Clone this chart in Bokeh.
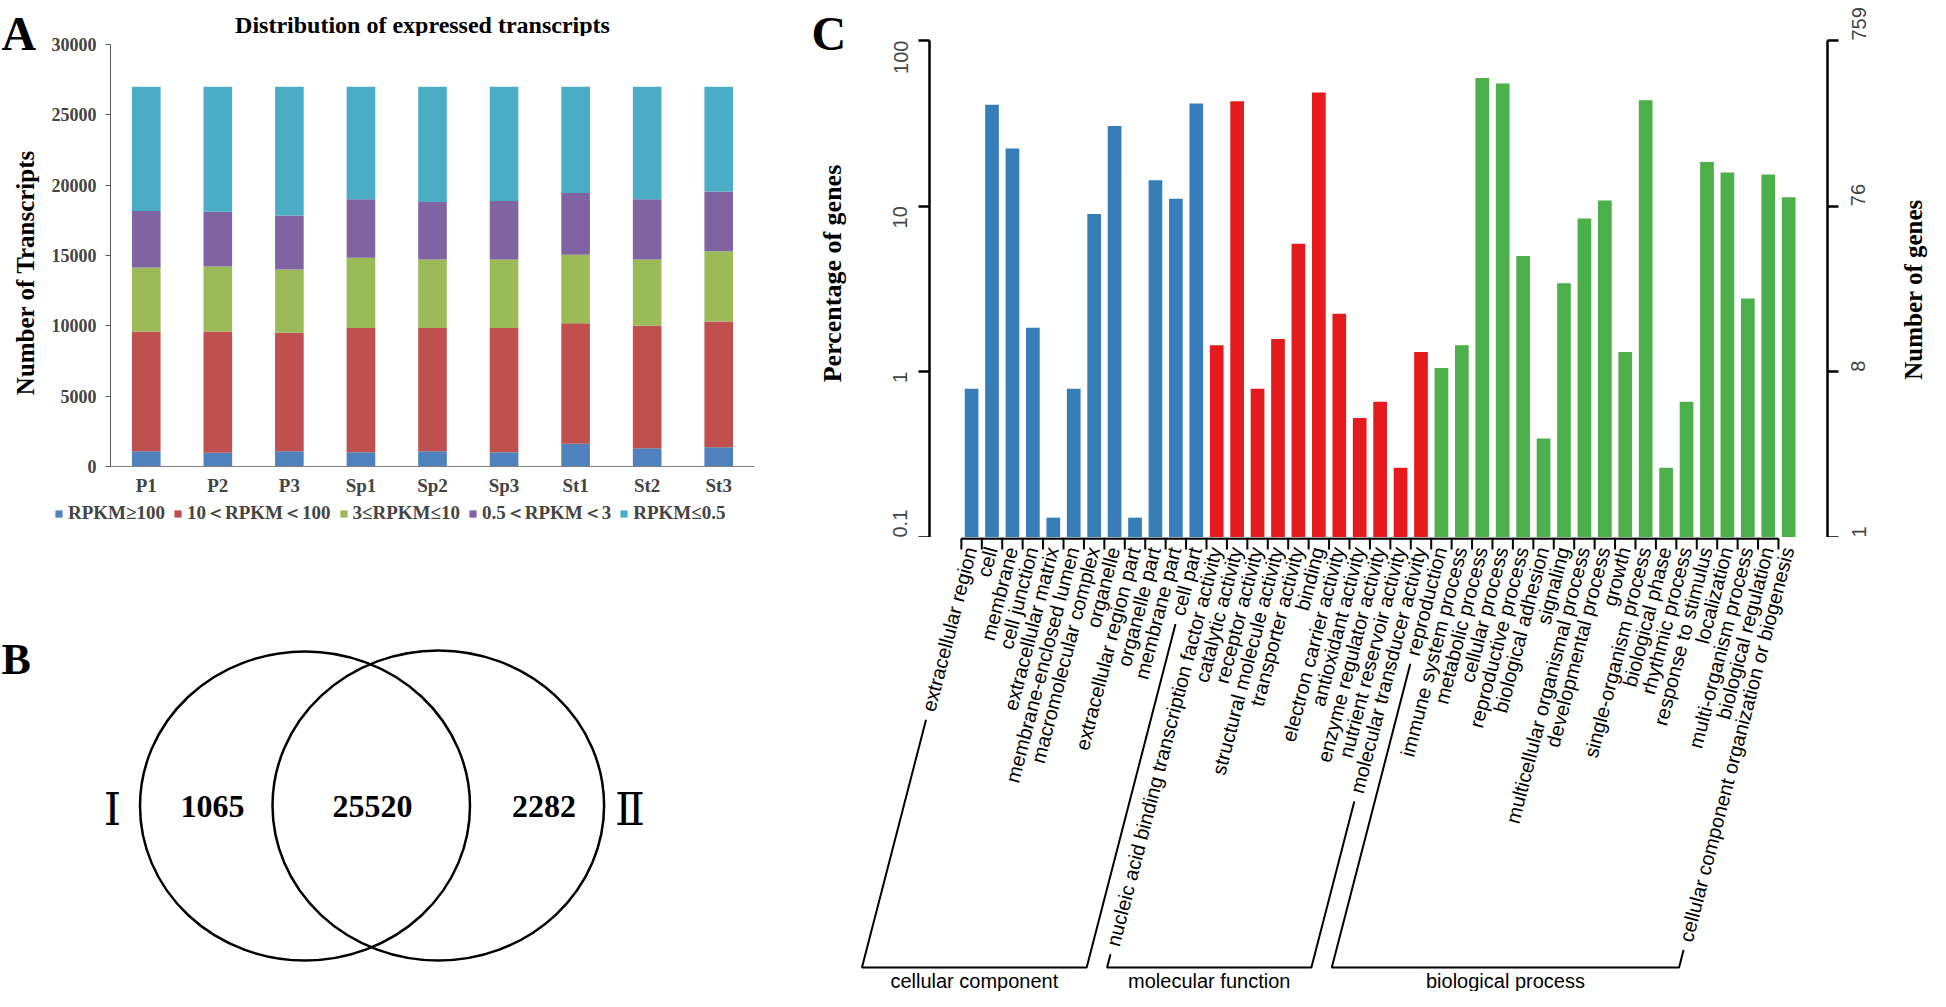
import math
from bokeh.plotting import figure
from bokeh.layouts import row, column
from bokeh.models import (Range1d, FactorRange, FixedTicker, LogAxis,
                          Legend, LegendItem, ColumnDataSource)
from bokeh.core.properties import value
from bokeh.embed import file_html
from bokeh.resources import INLINE

# ======================= DATA =======================
# Panel A: number of transcripts per RPKM class
samples = ["P1", "P2", "P3", "Sp1", "Sp2", "Sp3", "St1", "St2", "St3"]
rpkm_classes = ["RPKM≥100", "10＜RPKM＜100", "3≤RPKM≤10", "0.5＜RPKM＜3", "RPKM≤0.5"]
n_ge100 = [1090, 970, 1090, 1020, 1090, 1020, 1610, 1300, 1370]
n_10_100 = [8510, 8630, 8410, 8820, 8750, 8820, 8580, 8700, 8930]
n_3_10 = [4550, 4620, 4510, 5000, 4880, 4880, 4860, 4720, 5000]
n_05_3 = [4010, 3890, 3840, 4150, 4080, 4150, 4390, 4270, 4250]
n_le05 = [8840, 8890, 9150, 8010, 8200, 8130, 7560, 8010, 7450]
a_title = "Distribution of expressed transcripts"
a_ylabel = "Number of Transcripts"
a_yticks = [0, 5000, 10000, 15000, 20000, 25000, 30000]

# Panel B: Venn counts
venn_sets = ["Ⅰ", "Ⅱ"]
only_I = 1065
shared = 25520
only_II = 2282

# Panel C: GO classification (gene counts)
total_genes = 759
cc_terms = ["extracellular region", "cell", "membrane", "cell junction",
            "extracellular matrix", "membrane-enclosed lumen", "macromolecular complex",
            "organelle", "extracellular region part", "organelle part",
            "membrane part", "cell part"]
cc_genes = [6, 311, 169, 14, 1, 6, 68, 231, 1, 109, 84, 316]
mf_terms = ["nucleic acid binding transcription factor activity", "catalytic activity",
            "receptor activity", "structural molecule activity", "transporter activity",
            "binding", "electron carrier activity", "antioxidant activity",
            "enzyme regulator activity", "nutrient reservoir activity",
            "molecular transducer activity"]
mf_genes = [11, 326, 6, 12, 45, 369, 17, 4, 5, 2, 10]
bp_terms = ["reproduction", "immune system process", "metabolic process",
            "cellular process", "reproductive process", "biological adhesion",
            "signaling", "multicellular organismal process", "developmental process",
            "growth", "single-organism process", "biological phase", "rhythmic process",
            "response to stimulus", "localization", "multi-organism process",
            "biological regulation", "cellular component organization or biogenesis"]
bp_genes = [8, 11, 450, 417, 38, 3, 26, 64, 82, 10, 331, 2, 5, 140, 121, 21, 118, 86]
go_groups = ["cellular component", "molecular function", "biological process"]
c_ylabel_left = "Percentage of genes"
c_ylabel_right = "Number of genes"
pct_ticks = [0.1, 1, 10, 100]

# ======================= STYLE / LAYOUT =======================
colorsA = ["#4F81BD", "#C0504D", "#9BBB59", "#8064A2", "#4BACC6"]
colorsC = ["#377EB8", "#E41A1C", "#4DAF4A"]
SERIF = "Liberation Serif"
SANS = "Liberation Sans"
LEFT_W, RIGHT_W = 782, 1148
PAGE_BOTTOM = 999
# left column page rows: title strip | chart A | legend strip | Venn
Y_A0, Y_A1, Y_L1 = 44, 508, 545
X_AS = 48                    # end of the left text strip of panel A


def common(p):
    p.outline_line_color = None
    p.background_fill_color = "white"
    p.border_fill_color = "white"
    p.xgrid.visible = False
    p.ygrid.visible = False


def strip(x0, x1, ytop, ybot):
    """Axis-less figure whose data coordinates are page pixels (y measured up from ybot)."""
    f = figure(x_range=Range1d(x0, x1), y_range=Range1d(0, ybot - ytop),
               width=x1 - x0, height=ybot - ytop, min_border=0,
               x_axis_location=None, y_axis_location=None,
               toolbar_location=None, output_backend="svg")
    common(f)
    return f


# ---------------- Panel A ----------------
A_L, A_R, A_T, A_B = 118, 762, 52, 474
sAL = strip(8, X_AS, 8, Y_A1)
sAL.text(x=[9], y=[Y_A1 - 41], text=["A"], text_align="left",
         text_baseline="alphabetic", text_font=value(SERIF), text_font_style="bold",
         text_font_size="48px")
sAL.text(x=[33], y=[Y_A1 - 280], text=[a_ylabel], angle=math.pi / 2,
         text_align="center", text_baseline="middle", text_font=value(SERIF),
         text_font_style="bold", text_font_size="25px")
sAT = strip(X_AS, 8 + LEFT_W, 8, Y_A0)
sAT.text(x=[430], y=[Y_A0 - 32], text=[a_title], text_align="center",
         text_baseline="alphabetic", text_font=value(SERIF), text_font_style="bold",
         text_font_size="24px")

pA = figure(x_range=FactorRange(factors=samples), y_range=Range1d(0, 30000),
            width=8 + LEFT_W - X_AS, height=Y_A1 - Y_A0, min_border_left=A_L - X_AS,
            min_border_right=8 + LEFT_W - A_R, min_border_top=A_T - Y_A0,
            min_border_bottom=Y_A1 - A_B, toolbar_location=None,
            output_backend="svg")
common(pA)
srcA = ColumnDataSource(dict(sample=samples, c0=n_ge100, c1=n_10_100, c2=n_3_10,
                             c3=n_05_3, c4=n_le05))
rendA = pA.vbar_stack(["c0", "c1", "c2", "c3", "c4"], x="sample", width=0.4,
                      fill_color=colorsA, line_color=None, source=srcA)
ya = pA.yaxis[0]
ya.ticker = FixedTicker(ticks=a_yticks)
ya.minor_tick_line_color = None
ya.major_tick_out = 5
ya.major_tick_in = 0
ya.axis_line_color = "#595959"
ya.major_tick_line_color = "#595959"
ya.major_label_text_font = SERIF
ya.major_label_text_font_style = "bold"
ya.major_label_text_font_size = "18px"
ya.major_label_standoff = 9
xa = pA.xaxis[0]
xa.major_tick_out = 0
xa.major_tick_in = 0
xa.minor_tick_line_color = None
xa.axis_line_color = "#7f7f7f"
xa.major_label_text_font = SERIF
xa.major_label_text_font_style = "bold"
xa.major_label_text_font_size = "19px"
xa.major_label_standoff = 8

# legend strip: Bokeh Legend whose swatches come from zero-size proxies
# (placed outside the visible range) carrying each class colour
sL = strip(8, 8 + LEFT_W, Y_A1, Y_L1)
leg_r = [sL.vbar(x=[-1000], top=[0], bottom=[0], width=0, fill_color=c, line_color=None)
         for c in colorsA]
legA = Legend(items=[LegendItem(label=c, renderers=[r]) for c, r in zip(rpkm_classes, leg_r)],
              orientation="horizontal", location=(62 - 8, Y_L1 - 534), glyph_width=9,
              glyph_height=9, label_standoff=5, spacing=8, padding=0, margin=0,
              border_line_color=None, background_fill_alpha=0,
              label_text_font=SERIF, label_text_font_style="bold",
              label_text_font_size="19px", label_height=20)
sL.add_layout(legA)

# ---------------- Panel B ----------------
pB = strip(8, 8 + LEFT_W, Y_L1, PAGE_BOTTOM)


def by(py):
    return PAGE_BOTTOM - py


pB.ellipse(x=[312.5, 445.8], y=[by(813.5), by(813)], width=[330, 331.6],
           height=[309, 310], fill_color=None, line_color="black", line_width=2.5)
pB.text(x=[220, 380, 551.5], y=[by(814)] * 3,
        text=[str(only_I), str(shared), str(only_II)], text_align="center",
        text_baseline="middle", text_font=value(SERIF), text_font_style="bold",
        text_font_size="32px")
pB.text(x=[120, 637.5], y=[by(817)] * 2, text=venn_sets, text_align="center",
        text_baseline="middle", text_font=value("DejaVu Serif"), text_font_size="44px")
pB.text(x=[9], y=[by(667)], text=["B"], text_align="left", text_baseline="alphabetic",
        text_font=value(SERIF), text_font_style="bold", text_font_size="44px")

# ---------------- Panel C ----------------
terms = cc_terms + mf_terms + bp_terms
genes = cc_genes + mf_genes + bp_genes
pct = [100.0 * g / total_genes for g in genes]
grp = [0] * len(cc_terms) + [1] * len(mf_terms) + [2] * len(bp_terms)
idx = list(range(len(terms)))
RX0 = 8 + LEFT_W            # right column left edge (page)
RX1 = RX0 + RIGHT_W         # right column right edge (page)
C_L, C_R, C_T, C_B = 937, 1835, 48, 545
SL_X1 = 865                 # end of left text strip
SR_X0 = 1900                # start of right text strip
xr = Range1d(-2.06, 41.9)
ppu = (C_R - C_L) / (xr.end - xr.start)

sCL = strip(RX0, SL_X1, 8, C_B)
sCL.text(x=[819], y=[C_B - 41], text=["C"], text_align="left",
         text_baseline="alphabetic", text_font=value(SERIF), text_font_style="bold",
         text_font_size="48px")
sCL.text(x=[840], y=[C_B - 281], text=[c_ylabel_left], angle=math.pi / 2,
         text_align="center", text_baseline="middle", text_font=value(SERIF),
         text_font_style="bold", text_font_size="26px")
sCR = strip(SR_X0, RX1, 8, C_B)
sCR.text(x=[1921], y=[C_B - 297], text=[c_ylabel_right], angle=math.pi / 2,
         text_align="center", text_baseline="middle", text_font=value(SERIF),
         text_font_style="bold", text_font_size="25px")

pC = figure(x_range=xr, y_range=Range1d(0.1, 100), y_axis_type="log",
            width=SR_X0 - SL_X1, height=C_B - 8, min_border_left=C_L - SL_X1,
            min_border_right=SR_X0 - C_R, min_border_top=C_T - 8,
            min_border_bottom=0, x_axis_location=None, toolbar_location=None,
            output_backend="svg")
common(pC)
srcC = ColumnDataSource(dict(x=idx, top=pct, color=[colorsC[g] for g in grp]))
pC.vbar(x="x", top="top", bottom=0.1, width=0.67, fill_color="color",
        line_color=None, source=srcC)


def style_c_axis(ax):
    ax.ticker = FixedTicker(ticks=pct_ticks)
    ax.minor_tick_line_color = None
    ax.major_tick_out = 11
    ax.major_tick_in = 0
    ax.axis_line_width = 2.5
    ax.major_tick_line_width = 2.5
    ax.axis_line_color = "black"
    ax.major_tick_line_color = "black"
    ax.major_label_orientation = math.pi / 2
    ax.major_label_text_font = SANS
    ax.major_label_text_font_size = "20px"


yl = pC.yaxis[0]
style_c_axis(yl)
yl.major_label_overrides = {t: ("%g" % t) for t in pct_ticks}
yl.major_label_standoff = 18
yr = LogAxis()
style_c_axis(yr)
yr.major_label_overrides = {t: str(int(round(total_genes * t / 100))) for t in pct_ticks}
yr.major_label_standoff = 20
pC.add_layout(yr, "right")

# bottom part: category labels and group brackets (same x scale as the bars)
xr_b = Range1d(xr.start - (C_L - RX0) / ppu, xr.end + (RX1 - C_R) / ppu)
pCb = figure(x_range=xr_b, y_range=Range1d(0, PAGE_BOTTOM - C_B), width=RIGHT_W,
             height=PAGE_BOTTOM - C_B, min_border=0, x_axis_location=None,
             y_axis_location=None, toolbar_location=None, output_backend="svg")
common(pCb)


def cy(py):
    return PAGE_BOTTOM - py


n = len(terms)
bounds = [k - 0.5 for k in range(n)]
pCb.segment(x0=[bounds[0]], y0=[cy(546)], x1=[bounds[-1]], y1=[cy(546)],
            line_color="black", line_width=2.5)
pCb.segment(x0=bounds, y0=[cy(546)] * n, x1=bounds, y1=[cy(557)] * n,
            line_color="black", line_width=2)

theta = math.radians(75.5)
FS = 20
AY = cy(555)
XOFF = -1
pCb.text(x=idx, y=[AY] * n, text=terms, angle=theta, x_offset=XOFF,
         text_align="right", text_baseline="middle", text_font=value(SANS),
         text_font_size="%dpx" % FS, text_color="black")

ARIAL = {"a": 556, "b": 556, "c": 500, "d": 556, "e": 556, "f": 278, "g": 556,
         "h": 556, "i": 222, "j": 222, "k": 500, "l": 222, "m": 833, "n": 556,
         "o": 556, "p": 556, "q": 556, "r": 333, "s": 500, "t": 278, "u": 556,
         "v": 500, "w": 722, "x": 500, "y": 500, "z": 500, " ": 278, "-": 333}


def tlen(s):
    return sum(ARIAL.get(ch, 556) for ch in s) * FS / 1000.0


GAP = 9
YB = cy(975)
spans = []
start = 0
for g in range(3):
    cnt = grp.count(g)
    spans.append((start, start + cnt - 1))
    start += cnt

bx, bys, gx = [], [], []
for (i0, i1) in spans:
    ends = []
    for i in (i0, i1):
        ax = i + XOFF / ppu
        tb = (AY - YB) / math.sin(theta)
        te = min(tlen(terms[i]) + GAP, tb - 6)
        pe = (ax - te * math.cos(theta) / ppu, AY - te * math.sin(theta))
        pb = (ax - tb * math.cos(theta) / ppu, YB)
        ends.append((pe, pb))
    bx.append([ends[0][0][0], ends[0][1][0], ends[1][1][0], ends[1][0][0]])
    bys.append([ends[0][0][1], ends[0][1][1], ends[1][1][1], ends[1][0][1]])
    gx.append((ends[0][1][0] + ends[1][1][0]) / 2)
pCb.multi_line(xs=bx, ys=bys, line_color="black", line_width=2)
pCb.text(x=gx, y=[cy(988)] * 3, text=go_groups, text_align="center",
         text_baseline="middle", text_font=value(SANS), text_font_size="20px")

# nesting the framed charts keeps Bokeh from aligning their frames with the strips
left = column(row(sAL, column(sAT, row(pA))), sL, pB)
right = column(row(sCL, column(pC), sCR), pCb)
layout = row(left, right)
open("out.html", "w").write(file_html(layout, INLINE, title="Transcripts and GO"))
